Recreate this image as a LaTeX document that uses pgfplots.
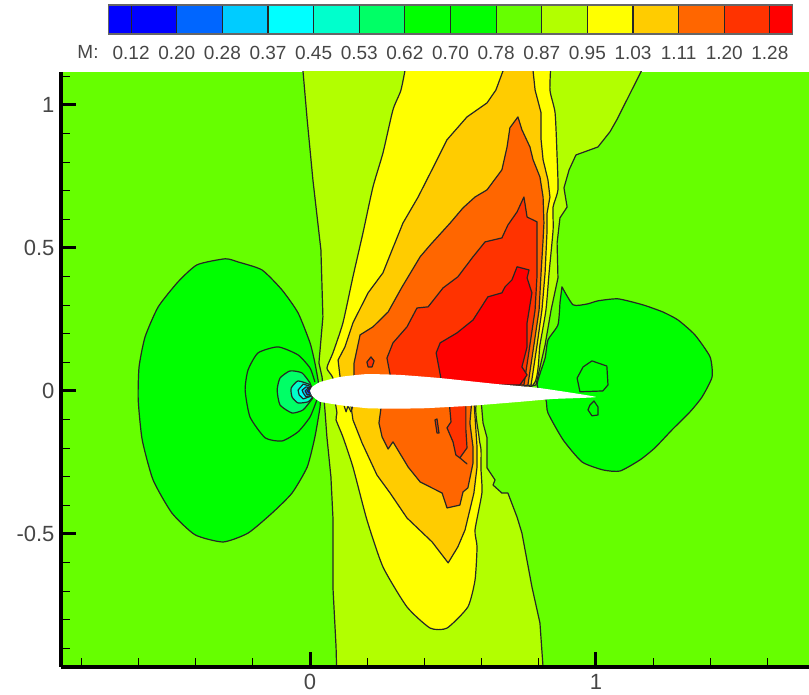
\documentclass[border=0pt]{standalone}
\usepackage{fontspec}
\setmainfont{Liberation Sans}
\usepackage{pgfplots}
\pgfplotsset{compat=1.18}
\definecolor{cA}{RGB}{0,0,255}
\definecolor{cB}{RGB}{0,102,255}
\definecolor{cC}{RGB}{0,204,255}
\definecolor{cD}{RGB}{0,255,255}
\definecolor{cE}{RGB}{0,255,204}
\definecolor{cF}{RGB}{0,255,102}
\definecolor{cG}{RGB}{0,255,0}
\definecolor{cH}{RGB}{102,255,0}
\definecolor{cI}{RGB}{178,255,0}
\definecolor{cJ}{RGB}{255,255,0}
\definecolor{cK}{RGB}{255,204,0}
\definecolor{cL}{RGB}{255,102,0}
\definecolor{cM}{RGB}{255,51,0}
\definecolor{cN}{RGB}{255,0,0}
\definecolor{txt}{RGB}{70,70,70}
\tikzset{cont/.style={draw=black!85,line width=1.2pt,line join=round},
  soft/.style={smooth,tension=0.35}}
\begin{document}
\begin{tikzpicture}
\path[use as bounding box] (0,0) rectangle (809pt,695pt);
\begin{axis}[
  at={(61pt,28pt)},anchor=south west,scale only axis,
  width=748pt,height=595pt,
  xmin=-0.871,xmax=1.745,ymin=-0.965,ymax=1.115,
  axis x line*=bottom,axis y line*=left,
  axis line style={-,line width=3.5pt,black},
  axis on top,
  tick align=inside,
  xtick={0,1},xticklabels={0,1},
  ytick={-0.5,0,0.5,1},yticklabels={-0.5,0,0.5,1},
  minor xtick={-0.8,-0.6,-0.4,-0.2,0.2,0.4,0.6,0.8,1.2,1.4,1.6},
  minor ytick={-0.9,-0.8,-0.7,-0.6,-0.4,-0.3,-0.2,-0.1,0.1,0.2,0.3,0.4,0.6,0.7,0.8,0.9,1.1},
  major tick length=15pt,minor tick length=9pt,
  every major tick/.append style={line width=3pt,black},
  every minor tick/.append style={line width=1.2pt,black},
  tick label style={font=\fontsize{22}{24}\selectfont,text=txt},
  xticklabel style={yshift=-4pt},
  yticklabel style={xshift=-3pt},
  axis background/.style={fill=cH},
]
% M = 0.87 contour
\addplot[cont,fill=cI] coordinates {(-0.028,1.157)(-0.010,0.948)(0.010,0.738)(0.038,0.493)(0.045,0.259)(0.035,0.143)(0.031,0.098)(0.042,0.049)(0.052,-0.066)(0.059,-0.161)(0.073,-0.300)(0.080,-0.441)(0.080,-0.685)(0.091,-0.895)(0.094,-1.010)(0.818,-1.010)(0.804,-0.811)(0.776,-0.685)(0.741,-0.497)(0.724,-0.441)(0.692,-0.357)(0.671,-0.357)(0.640,-0.329)(0.647,-0.311)(0.619,-0.269)(0.619,-0.164)(0.605,-0.112)(0.598,-0.031)(0.790,0.021)(0.822,0.161)(0.843,0.283)(0.867,0.395)(0.864,0.517)(0.874,0.605)(0.899,0.643)(0.888,0.710)(0.906,0.773)(0.930,0.825)(1.007,0.853)(1.049,0.906)(1.073,0.948)(1.157,1.115)(1.178,1.157)} --cycle;
% M = 0.95 contour
\addplot[cont,fill=cJ,soft] coordinates {(0.339,1.157)(0.318,1.052)(0.290,0.983)(0.255,0.832)(0.220,0.713)(0.185,0.552)(0.150,0.399)(0.115,0.238)(0.080,0.133)(0.059,0.080)(0.080,0.045)(0.087,-0.031)(0.094,-0.077)(0.091,-0.101)(0.115,-0.161)(0.150,-0.266)(0.199,-0.451)(0.255,-0.615)(0.339,-0.755)(0.420,-0.829)(0.479,-0.829)(0.552,-0.755)(0.577,-0.661)(0.584,-0.545)(0.577,-0.486)(0.601,-0.357)(0.598,-0.276)(0.598,-0.206)(0.591,-0.161)(0.587,-0.031)(0.780,0.021)(0.804,0.161)(0.825,0.283)(0.836,0.413)(0.850,0.563)(0.850,0.643)(0.867,0.703)(0.864,0.818)(0.857,0.972)(0.839,1.052)(0.843,1.157)} --cycle;
% M = 1.03 contour
\addplot[cont,fill=cK] coordinates {(0.689,1.157)(0.650,1.052)(0.619,1.007)(0.549,0.958)(0.479,0.878)(0.444,0.808)(0.378,0.678)(0.325,0.587)(0.287,0.493)(0.255,0.413)(0.203,0.343)(0.150,0.238)(0.122,0.154)(0.098,0.108)(0.105,0.049)(0.122,-0.014)(0.140,-0.031)(0.150,-0.101)(0.182,-0.182)(0.234,-0.294)(0.280,-0.357)(0.339,-0.444)(0.427,-0.528)(0.483,-0.601)(0.517,-0.545)(0.542,-0.486)(0.573,-0.357)(0.584,-0.266)(0.584,-0.196)(0.573,-0.031)(0.773,0.021)(0.794,0.161)(0.811,0.283)(0.822,0.413)(0.829,0.563)(0.829,0.622)(0.839,0.678)(0.832,0.738)(0.815,0.808)(0.808,0.878)(0.808,0.972)(0.787,1.052)(0.776,1.157)} --cycle;
% M = 1.11 contour
\addplot[cont,fill=cL] coordinates {(0.727,0.958)(0.699,0.920)(0.689,0.853)(0.671,0.773)(0.619,0.703)(0.577,0.678)(0.535,0.640)(0.490,0.587)(0.420,0.510)(0.385,0.469)(0.322,0.364)(0.273,0.276)(0.220,0.224)(0.175,0.196)(0.154,0.098)(0.154,0.021)(0.252,-0.031)(0.241,-0.112)(0.252,-0.161)(0.273,-0.203)(0.290,-0.178)(0.322,-0.231)(0.343,-0.266)(0.385,-0.318)(0.462,-0.357)(0.479,-0.409)(0.524,-0.399)(0.535,-0.353)(0.552,-0.339)(0.570,-0.252)(0.570,-0.196)(0.559,-0.112)(0.566,-0.031)(0.762,0.021)(0.783,0.161)(0.801,0.283)(0.808,0.413)(0.815,0.528)(0.818,0.587)(0.815,0.678)(0.804,0.748)(0.780,0.808)(0.769,0.853)(0.741,0.913)} --cycle;
% M = 1.20 contours
\addplot[cont,fill=cM] coordinates {(0.287,0.021)(0.269,0.115)(0.290,0.168)(0.339,0.224)(0.374,0.290)(0.413,0.294)(0.465,0.360)(0.517,0.399)(0.570,0.469)(0.612,0.521)(0.671,0.535)(0.692,0.580)(0.724,0.626)(0.748,0.678)(0.759,0.608)(0.794,0.591)(0.794,0.493)(0.794,0.406)(0.787,0.283)(0.769,0.161)(0.748,0.021)} --cycle;
\addplot[cont,fill=cM] coordinates {(0.213,0.119)(0.224,0.105)(0.217,0.084)(0.203,0.084)(0.199,0.101)} --cycle;
\addplot[cont,fill=cM] coordinates {(0.486,-0.031)(0.493,-0.108)(0.479,-0.129)(0.500,-0.178)(0.510,-0.224)(0.524,-0.234)(0.549,-0.255)(0.524,-0.234)(0.549,-0.199)(0.545,-0.136)(0.545,-0.031)} --cycle;
\addplot[cont,fill=cM] coordinates {(0.437,-0.101)(0.444,-0.098)(0.451,-0.147)(0.444,-0.147)} --cycle;
% M = 1.28 contour
\addplot[cont,fill=cN] coordinates {(0.462,0.021)(0.441,0.133)(0.455,0.168)(0.514,0.203)(0.570,0.248)(0.622,0.329)(0.671,0.343)(0.682,0.364)(0.706,0.388)(0.724,0.434)(0.766,0.423)(0.759,0.395)(0.776,0.343)(0.759,0.238)(0.759,0.154)(0.741,0.084)(0.759,0.056)(0.734,0.021)} --cycle;
% M = 0.78 contours
\addplot[cont,fill=cG,soft] coordinates {(0.028,0.038)(0.017,0.098)(0,0.168)(-0.042,0.273)(-0.098,0.353)(-0.168,0.423)(-0.252,0.451)(-0.297,0.462)(-0.395,0.441)(-0.462,0.381)(-0.531,0.294)(-0.577,0.189)(-0.598,0.084)(-0.601,-0.031)(-0.587,-0.171)(-0.549,-0.311)(-0.483,-0.427)(-0.402,-0.503)(-0.304,-0.528)(-0.217,-0.497)(-0.133,-0.427)(-0.063,-0.357)(-0.010,-0.266)(0.017,-0.161)(0.035,-0.056)(0.035,-0.024)} --cycle;
\addplot[cont,fill=cG,soft] coordinates {(0.881,0.364)(0.920,0.301)(0.969,0.304)(1.007,0.315)(1.077,0.322)(1.164,0.301)(1.234,0.276)(1.287,0.248)(1.346,0.196)(1.399,0.119)(1.406,0.049)(1.371,-0.021)(1.329,-0.073)(1.266,-0.136)(1.206,-0.199)(1.154,-0.241)(1.084,-0.280)(1.024,-0.276)(0.951,-0.248)(0.885,-0.171)(0.832,-0.077)(0.825,-0.031)(0.794,0.021)(0.822,0.115)(0.832,0.178)(0.867,0.231)(0.874,0.308)} --cycle;
% M = 0.70 contours
\addplot[cont] coordinates {(0.986,0.105)(1.038,0.087)(1.042,0.021)(1.024,0)(0.944,-0.003)(0.934,0.045)(0.955,0.084)} --cycle;
\addplot[cont] coordinates {(0.993,-0.035)(1.007,-0.056)(1.007,-0.084)(0.986,-0.087)(0.972,-0.066)(0.979,-0.049)} --cycle;
\addplot[cont,soft] coordinates {(0.017,0.031)(0,0.080)(-0.042,0.126)(-0.112,0.154)(-0.182,0.133)(-0.217,0.073)(-0.227,0.003)(-0.210,-0.091)(-0.157,-0.164)(-0.098,-0.175)(-0.042,-0.143)(0,-0.091)(0.024,-0.031)};
% nose contours
\addplot[cont,fill=cF,soft] coordinates {(0,0.028)(-0.028,0.063)(-0.070,0.070)(-0.105,0.045)(-0.115,0.003)(-0.105,-0.049)(-0.063,-0.077)(-0.024,-0.066)(0.010,-0.024)} --cycle;
\addplot[cont,fill=cE,soft] coordinates {(0.003,0.021)(-0.042,0.035)(-0.066,0.010)(-0.063,-0.021)(-0.042,-0.042)(-0.007,-0.038)(0.007,-0.024)} --cycle;
\addplot[cont,fill=cD] coordinates {(0.007,0.014)(-0.024,0.024)(-0.042,0.003)(-0.038,-0.014)(-0.024,-0.028)(0.007,-0.017)} --cycle;
\addplot[cont,fill=cC] coordinates {(0.007,0.010)(-0.014,0.014)(-0.028,0.003)(-0.024,-0.007)(-0.014,-0.021)(0.007,-0.014)} --cycle;
\addplot[cont,fill=cB] coordinates {(0.007,0.007)(-0.007,0.010)(-0.017,0)(-0.010,-0.014)(0.003,-0.010)} --cycle;
\addplot[cont,fill=cA] coordinates {(0.003,0)(-0.003,0.007)(-0.010,0)(-0.003,-0.007)} --cycle;
% squiggle under the nose
\addplot[cont] coordinates {(0.119,-0.052)(0.126,-0.073)(0.133,-0.052)(0.143,-0.073)(0.150,-0.052)};
% aerofoil
\addplot[draw=none,fill=white,smooth,tension=0.25] coordinates {(0,0)(0.007,0.014)(0.035,0.031)(0.105,0.049)(0.199,0.059)(0.315,0.056)(0.455,0.045)(0.654,0.024)(0.804,0.010)(1.0,-0.021)(0.850,-0.028)(0.734,-0.038)(0.559,-0.052)(0.385,-0.061)(0.210,-0.061)(0.115,-0.051)(0.035,-0.038)(0.007,-0.017)} --cycle;
\end{axis}
% colour bar
\begin{axis}[
  at={(108.3pt,661pt)},anchor=south west,scale only axis,
  width=684.4pt,height=29pt,
  xmin=-0.5,xmax=14.5,ymin=0,ymax=1,
  ytick=\empty,
  xtick={0,1,...,14},
  xticklabels={0.12,0.20,0.28,0.37,0.45,0.53,0.62,0.70,0.78,0.87,0.95,1.03,1.11,1.20,1.28},
  major tick length=0pt,
  axis on top,
  axis line style={line width=1.2pt,black!60},
  tick label style={font=\fontsize{19}{21}\selectfont,text=txt},
  xticklabel style={yshift=-8.5pt},
]
\addplot[cont,fill=cA] coordinates {(-0.5,0)(0,0)(0,1)(-0.5,1)} --cycle;
\addplot[cont,fill=cA] coordinates {(0,0)(1,0)(1,1)(0,1)} --cycle;
\addplot[cont,fill=cB] coordinates {(1,0)(2,0)(2,1)(1,1)} --cycle;
\addplot[cont,fill=cC] coordinates {(2,0)(3,0)(3,1)(2,1)} --cycle;
\addplot[cont,fill=cD] coordinates {(3,0)(4,0)(4,1)(3,1)} --cycle;
\addplot[cont,fill=cE] coordinates {(4,0)(5,0)(5,1)(4,1)} --cycle;
\addplot[cont,fill=cF] coordinates {(5,0)(6,0)(6,1)(5,1)} --cycle;
\addplot[cont,fill=cG] coordinates {(6,0)(7,0)(7,1)(6,1)} --cycle;
\addplot[cont,fill=cG] coordinates {(7,0)(8,0)(8,1)(7,1)} --cycle;
\addplot[cont,fill=cH] coordinates {(8,0)(9,0)(9,1)(8,1)} --cycle;
\addplot[cont,fill=cI] coordinates {(9,0)(10,0)(10,1)(9,1)} --cycle;
\addplot[cont,fill=cJ] coordinates {(10,0)(11,0)(11,1)(10,1)} --cycle;
\addplot[cont,fill=cK] coordinates {(11,0)(12,0)(12,1)(11,1)} --cycle;
\addplot[cont,fill=cL] coordinates {(12,0)(13,0)(13,1)(12,1)} --cycle;
\addplot[cont,fill=cM] coordinates {(13,0)(14,0)(14,1)(13,1)} --cycle;
\addplot[cont,fill=cN] coordinates {(14,0)(14.5,0)(14.5,1)(14,1)} --cycle;
\end{axis}
\node[font=\fontsize{19}{21}\selectfont,text=txt] at (88pt,643pt) {M:};
\end{tikzpicture}
\end{document}
